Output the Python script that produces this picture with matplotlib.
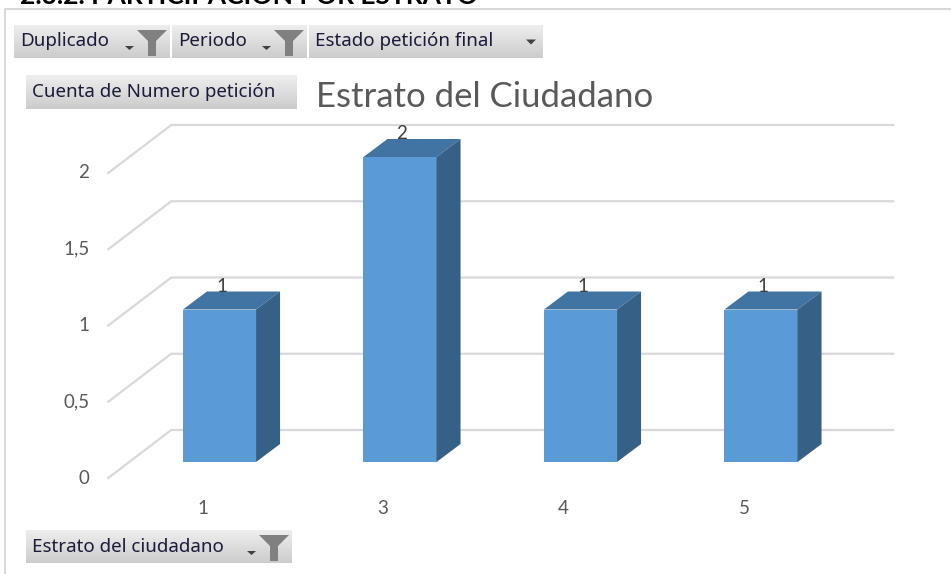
import matplotlib
matplotlib.use('Agg')
from matplotlib import pyplot as plt
from matplotlib.patches import Polygon
import numpy as np

plt.rcParams['font.family'] = ['Lato', 'DejaVu Sans']

# data
estratos = ['1', '3', '4', '5']
cuenta = [1, 2, 1, 1]
yticks = [0, 0.5, 1, 1.5, 2]
ytick_labels = ['0', '0,5', '1', '1,5', '2']
titulo = 'Estrato del Ciudadano'
filtros = ['Duplicado', 'Periodo', 'Estado petición final']

W, H = 951, 574
fig = plt.figure(figsize=(W / 100, H / 100), dpi=100)

# overlay in pixels for the pivot buttons and frame
ax = fig.add_axes([0, 0, 1, 1])
ax.set_xlim(0, W)
ax.set_ylim(H, 0)
ax.axis('off')

# chart plane (front of the bars)
left, right, bottom, top = 129.25, 851.25, 462, 462 - 2.5 * 152.5
cax = fig.add_axes([left / W, 1 - bottom / H, (right - left) / W, (bottom - top) / H])
cax.set_xlim(-0.5, len(estratos) - 0.5)
cax.set_ylim(0, 2.5)
cax.axis('off')

def shift(x, y, dx, dy):
    # move a data point by dx, dy pixels
    p = cax.transData.transform((x, y)) + np.array([dx, dy])
    return cax.transData.inverted().transform(p)

grid_c = '#d9d9d9'
# walls: side from front (-21,-16) to back (+42,+32), back wall to the right
x0, x1 = cax.get_xlim()
for v in yticks:
    a = shift(x0, v, -21, -16)
    b = shift(x0, v, 42, 32)
    c = shift(x1, v, 42, 32)
    cax.plot([a[0], b[0], c[0]], [a[1], b[1], c[1]], color=grid_c, lw=1.6,
             clip_on=False, zorder=1, solid_joinstyle='miter')

for v, lab in zip(yticks, ytick_labels):
    p = shift(x0, v, -40, -16)
    cax.text(p[0], p[1], lab, ha='right', va='center', fontsize=13.5,
             color='#595959', clip_on=False)

# bars
w = 0.405
xs = np.arange(len(estratos))
cax.bar(xs, cuenta, width=w, color='#5B9BD5', zorder=3)
ddx, ddy = 24, 18
for x, v in zip(xs, cuenta):
    fl, fr = (x - w / 2, v), (x + w / 2, v)
    top_face = [fl, fr, shift(*fr, ddx, ddy), shift(*fl, ddx, ddy)]
    side = [(x + w / 2, 0), fr, shift(*fr, ddx, ddy), shift(x + w / 2, 0, ddx, ddy)]
    cax.add_patch(Polygon(top_face, closed=True, fc='#4274A3', ec='none', zorder=3, clip_on=False))
    cax.add_patch(Polygon(side, closed=True, fc='#376087', ec='none', zorder=3, clip_on=False))
    p = shift(x, v, 2, 18)
    cax.text(p[0], p[1], str(v), ha='center', va='baseline', fontsize=13.5,
             color='#404040', clip_on=False, zorder=4)

for x, lab in zip(xs, estratos):
    p = shift(x, 0, -17, -46)
    cax.text(p[0], p[1], lab, ha='center', va='center', fontsize=13.5,
             color='#595959', clip_on=False)

ax.text(485, 97, titulo, ha='center', va='center', fontsize=25, color='#595959')

# frame + cut header
ax.plot([5, 5, W], [H, 9, 9], color='#d9d9d9', lw=1.5)
ax.text(20, 4, '2.3.2. PARTICIPACIÓN POR ESTRATO', ha='left', va='baseline',
        fontsize=19, fontweight='bold', color='black', clip_on=True)

grad = np.linspace(0.93, 0.80, 50).reshape(-1, 1)

def boton(x0b, x1b, y0b, y1b, texto, funnel=True, arrow=False):
    ax.imshow(grad, cmap='gray', vmin=0, vmax=1, aspect='auto',
              extent=(x0b, x1b, y1b, y0b), zorder=2)
    ax.text(x0b + 6, (y0b + y1b) / 2, texto, ha='left', va='center',
            fontsize=13.5, color='#1b1b3a', zorder=3, family='Noto Sans')
    if funnel:
        r = x1b - 3
        t = y0b + 5
        fx = [r - 30, r, r - 11, r - 11, r - 19, r - 19]
        fy = [t, t, t + 11, y1b - 2, y1b - 2, t + 11]
        ax.add_patch(Polygon(list(zip(fx, fy)), closed=True, fc='#808080', ec='none', zorder=3))
        ax.add_patch(Polygon([(r - 42, y1b - 12), (r - 33, y1b - 12), (r - 37.5, y1b - 8)],
                             closed=True, fc='#404040', ec='none', zorder=3))
    if arrow:
        r = x1b - 12
        cy = (y0b + y1b) / 2
        ax.add_patch(Polygon([(r - 5, cy - 2), (r + 5, cy - 2), (r, cy + 3)],
                             closed=True, fc='#404040', ec='none', zorder=3))

boton(14, 170, 25, 58, filtros[0])
boton(172, 307, 25, 58, filtros[1])
boton(309, 543, 25, 58, filtros[2], funnel=False, arrow=True)
boton(26, 297, 75, 109, 'Cuenta de Numero petición', funnel=False)
boton(26, 292, 530, 563, 'Estrato del ciudadano')

ax.set_xlim(0, W)
ax.set_ylim(H, 0)
fig.savefig('out.png', dpi=100)
